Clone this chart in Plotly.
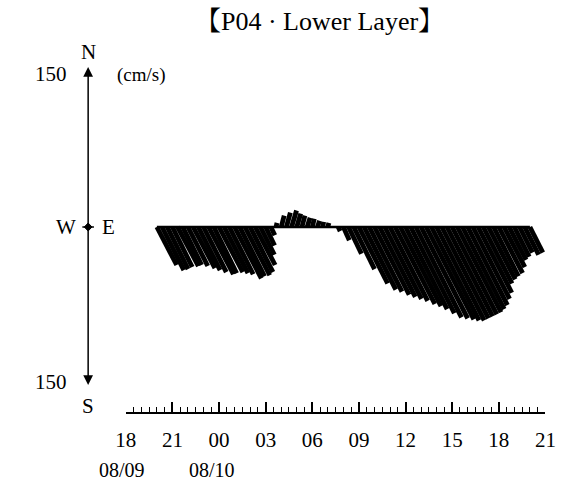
import plotly.graph_objects as go

# ---------------- data ----------------
# sampling: every 20 min, hours counted from 08/09 18:00
first_sample_hour = 2.0          # 08/09 20:00
sample_step_hours = 20 / 60
# eastward (u) and northward (v) current components, cm/s
u_east = [20, 22, 21, 20, 21, 19, 20, 22, 22, 23, 25, 23, 24, 24, 24, 27, 25, 25, 23, 20, 14, 9, 4,
          1, 3, 4, 5, 4, 3, 3, 2, 2, 1, 1, 0,
          2, 6, 13, 21, 29, 32, 33, 35, 36, 37, 38, 40, 41, 42, 44, 46, 47, 48, 48, 48, 47, 46, 45,
          44, 42, 40, 37, 34, 29, 27, 25, 24, 21, 17, 15, 13, 14, 13]
v_north = [-37, -42, -41, -39, -38, -37, -38, -40, -42, -44, -46, -45, -44, -45, -46, -50, -48, -47,
           -44, -37, -27, -18, -8,
           4, 11, 14, 16, 13, 11, 9, 8, 6, 5, 4, 1,
           -4, -13, -26, -41, -55, -61, -63, -66, -68, -70, -72, -75, -77, -80, -84, -88, -89, -90,
           -91, -91, -89, -87, -85, -83, -80, -76, -70, -64, -55, -51, -48, -45, -39, -32, -29, -25,
           -27, -25]
sample_hours = [first_sample_hour + i * sample_step_hours for i in range(len(u_east))]

tick_hours = [0, 3, 6, 9, 12, 15, 18, 21, 24, 27]
tick_labels = ["18", "21", "00", "03", "06", "09", "12", "15", "18", "21"]
date_labels = ["08/09", "08/10"]
title_text = "【P04 · Lower Layer】"
scale_max = 150

# ---------------- layout geometry ----------------
W, H = 568, 488
mb = 76
plot_h = H - mb
x_dom = [120 / W, 555 / W]
x_rng = [0, 27]
y_rng = [-180.14, 221.03]
px_per_hour = (x_dom[1] - x_dom[0]) * W / (x_rng[1] - x_rng[0])
px_per_unit = plot_h / (y_rng[1] - y_rng[0])
k = px_per_unit / px_per_hour   # hours per cm/s so sticks keep true direction

xs, ys = [], []
for t, u, v in zip(sample_hours, u_east, v_north):
    xs += [t, t + u * k, None]
    ys += [0, v, None]

fig = go.Figure()
fig.add_trace(go.Scatter(x=xs, y=ys, mode="lines",
                         line=dict(color="black", width=4.8), hoverinfo="skip"))
fig.add_trace(go.Scatter(x=[sample_hours[0], sample_hours[-1]], y=[0, 0], mode="lines",
                         line=dict(color="black", width=2.5), hoverinfo="skip"))

serif = "Liberation Serif, Noto Serif CJK JP, Noto Sans CJK JP, serif"


def py(p):  # pixel y -> paper y
    return (plot_h - p) / plot_h


def px(p):
    return p / W


ann = []
def txt(x, y, s, size=20, xanchor="center"):
    ann.append(dict(x=px(x), y=py(y), xref="paper", yref="paper", text=s, showarrow=False,
                    font=dict(family=serif, size=size, color="black"), xanchor=xanchor,
                    yanchor="middle"))

cx = 81  # compass x
txt(321, 22, title_text, 26)
txt(cx, 52, "N", 21)
txt(cx, 406, "S", 21)
txt(42, 74, str(scale_max), 21)
txt(42, 382, str(scale_max), 21)
txt(136, 75, "(cm/s)", 19)
txt(cx - 23, 227, "W", 21)
txt(cx + 21, 227, "E", 21)
txt(116, 470, date_labels[0], 20)
txt(209, 470, date_labels[1], 20)

# compass arrows
for head, tail_off in [(67, 160), (385, -158)]:
    ann.append(dict(x=px(cx), y=py(head), xref="paper", yref="paper", ax=0, ay=tail_off,
                    text="", showarrow=True, arrowhead=2, arrowsize=1.3, arrowwidth=1.5,
                    arrowcolor="black"))

shapes = [
    dict(type="line", xref="paper", yref="paper", x0=px(cx - 6), x1=px(cx + 6), y0=py(227),
         y1=py(227), line=dict(color="black", width=1.5)),
    dict(type="path", xref="paper", yref="paper",
         path=f"M {px(cx - 4)} {py(227)} L {px(cx)} {py(223)} L {px(cx + 4)} {py(227)} "
              f"L {px(cx)} {py(231)} Z",
         fillcolor="black", line=dict(color="black", width=1)),
]

fig.update_layout(
    width=W, height=H, margin=dict(l=0, r=0, t=0, b=mb),
    paper_bgcolor="white", plot_bgcolor="white", showlegend=False,
    annotations=ann, shapes=shapes,
    xaxis=dict(domain=x_dom, range=x_rng, showgrid=False, zeroline=False,
               showline=True, linecolor="black", linewidth=1.5,
               ticks="inside", ticklen=10, tickwidth=1.5, tickcolor="black",
               tickvals=tick_hours, ticktext=tick_labels, ticklabelstandoff=8,
               ticklabeloverflow="allow",
               tickfont=dict(family=serif, size=21, color="black"),
               minor=dict(ticks="inside", ticklen=5, tickwidth=1, tickcolor="black",
                          dtick=0.5, tick0=0, showgrid=False)),
    yaxis=dict(range=y_rng, visible=False, showgrid=False, zeroline=False),
)

fig.write_html("out.html", config={"displayModeBar": False},
               post_script="document.body.style.margin='0';document.body.style.overflow='hidden';")
